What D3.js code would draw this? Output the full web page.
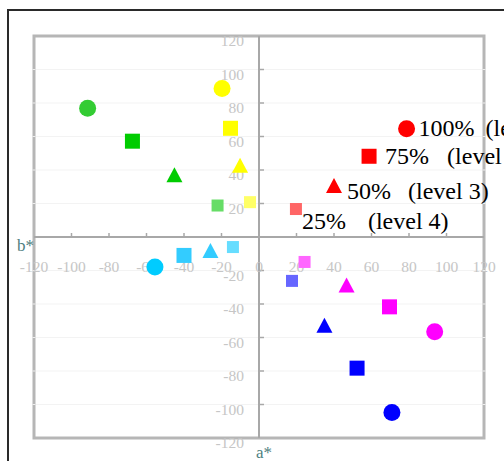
<!DOCTYPE html>
<html>
<head>
<meta charset="utf-8">
<script src="https://cdn.jsdelivr.net/npm/d3@7"></script>
<style>
  html, body { margin: 0; padding: 0; background: #fff; }
  svg { display: block; }
</style>
</head>
<body>
<script>
// ---- data ----
const seriesNames = ["green", "yellow", "red", "cyan", "magenta", "blue"];
const levels = ["100%", "75%", "50%", "25%"];
const levelNames = ["(level 1)", "(level 2)", "(level 3)", "(level 4)"];
const shapes = ["circle", "square", "triangle", "smallSquare"];
// a* values per series, ordered by level (100%, 75%, 50%, 25%)
const aGreen   = [-91.4, -67.5, -45.1, -22.1];
const bGreen   = [ 76.8,  57.2,  37.2,  18.8];
const aYellow  = [-19.7, -15.2, -10.1,  -4.8];
const bYellow  = [ 88.7,  64.9,  42.9,  20.8];
const aRed     = [ 78.7,  58.7,  40.0,  19.7];
const bRed     = [ 64.6,  48.2,  30.7,  16.7];
const aCyan    = [-55.5, -40.0, -25.9, -13.9];
const bCyan    = [-17.9, -11.0,  -8.0,  -6.0];
const aMagenta = [ 93.7,  69.6,  46.7,  24.3];
const bMagenta = [-56.6, -41.7, -28.6, -14.9];
const aBlue    = [ 70.9,  52.3,  34.9,  17.6];
const bBlue    = [-104.8, -78.3, -52.7, -26.2];
const xTicks = [-120, -100, -80, -60, -40, -20, 0, 20, 40, 60, 80, 100, 120];
const yTicks = [120, 100, 80, 60, 40, 20, -20, -40, -60, -80, -100, -120];

const colors = {
  green:   ["#33cc33", "#00cc00", "#00cc00", "#66dd66"],
  yellow:  ["#ffff00", "#ffff00", "#ffff00", "#ffff66"],
  red:     ["#ff0000", "#ff0000", "#ff0000", "#ff6666"],
  cyan:    ["#00ccff", "#33ccff", "#33ccff", "#66ddff"],
  magenta: ["#ff00ff", "#ff00ff", "#ff00ff", "#ff66ff"],
  blue:    ["#0000ff", "#0000ff", "#0000ff", "#6666ff"]
};
const aVals = {green: aGreen, yellow: aYellow, red: aRed, cyan: aCyan, magenta: aMagenta, blue: aBlue};
const bVals = {green: bGreen, yellow: bYellow, red: bRed, cyan: bCyan, magenta: bMagenta, blue: bBlue};

const points = [];
seriesNames.forEach(s => {
  levels.forEach((lv, i) => {
    points.push({series: s, level: i, a: aVals[s][i], b: bVals[s][i], color: colors[s][i], shape: shapes[i]});
  });
});

// ---- layout ----
const W = 504, H = 461;
const svg = d3.select("body").append("svg").attr("width", W).attr("height", H);

const x = d3.scaleLinear().domain([-120, 120]).range([34, 484]);
const y = d3.scaleLinear().domain([-120, 120]).range([438, 36]);

// outer frame (extends beyond the view)
svg.append("rect").attr("x", 8).attr("y", 10).attr("width", 600).attr("height", 600)
  .attr("fill", "none").attr("stroke", "#2a2a2a").attr("stroke-width", 2);

// faint gridlines
svg.append("g").selectAll("line").data(yTicks).join("line")
  .attr("x1", x(-120)).attr("x2", x(120))
  .attr("y1", d => y(d)).attr("y2", d => y(d))
  .attr("stroke", "#f3f3f3").attr("stroke-width", 1);

// plot border
svg.append("rect").attr("x", x(-120)).attr("y", y(120))
  .attr("width", x(120) - x(-120)).attr("height", y(-120) - y(120))
  .attr("fill", "none").attr("stroke", "#b6b6b6").attr("stroke-width", 3);

// light notches on border
const notch = svg.append("g");
notch.selectAll("line.l").data(yTicks.filter(d => Math.abs(d) < 120)).join("line")
  .attr("x1", x(-120) - 1.5).attr("x2", x(-120) + 1.5)
  .attr("y1", d => y(d)).attr("y2", d => y(d))
  .attr("stroke", "#eeeeee").attr("stroke-width", 1);
notch.selectAll("line.r").data(yTicks.filter(d => Math.abs(d) < 120)).join("line")
  .attr("x1", x(120) - 1.5).attr("x2", x(120) + 1.5)
  .attr("y1", d => y(d)).attr("y2", d => y(d))
  .attr("stroke", "#eeeeee").attr("stroke-width", 1);

// axes through origin
const axisColor = "#a8a8a8";
svg.append("line").attr("x1", x(-120)).attr("x2", x(120)).attr("y1", y(0)).attr("y2", y(0))
  .attr("stroke", axisColor).attr("stroke-width", 2);
svg.append("line").attr("x1", x(0)).attr("x2", x(0)).attr("y1", y(120)).attr("y2", y(-120))
  .attr("stroke", axisColor).attr("stroke-width", 2);

// ticks
svg.append("g").selectAll("line").data(xTicks.filter(d => d !== 0 && Math.abs(d) < 120)).join("line")
  .attr("x1", d => x(d)).attr("x2", d => x(d))
  .attr("y1", y(0) - 4).attr("y2", y(0))
  .attr("stroke", axisColor).attr("stroke-width", 1.5);
svg.append("g").selectAll("line").data(yTicks.filter(d => Math.abs(d) < 120)).join("line")
  .attr("x1", x(0)).attr("x2", x(0) + 5)
  .attr("y1", d => y(d)).attr("y2", d => y(d))
  .attr("stroke", axisColor).attr("stroke-width", 1.5);

// tick labels
const tickFont = "'Liberation Serif', 'Times New Roman', serif";
svg.append("g").selectAll("text").data(xTicks).join("text")
  .attr("x", d => x(d)).attr("y", y(0) + 35)
  .attr("text-anchor", "middle")
  .attr("font-family", tickFont).attr("font-size", 15.5)
  .attr("fill", "#c6c6c6")
  .text(d => d);
svg.append("g").selectAll("text").data(yTicks).join("text")
  .attr("x", x(0) - 15).attr("y", d => y(d) + 10)
  .attr("text-anchor", "end")
  .attr("font-family", tickFont).attr("font-size", 15.5)
  .attr("fill", "#c6c6c6")
  .text(d => d);

// axis titles
svg.append("text").attr("x", 17).attr("y", 251)
  .attr("font-family", tickFont).attr("font-size", 17).attr("fill", "#4f7f7f").text("b*");
svg.append("text").attr("x", 256).attr("y", 458)
  .attr("font-family", tickFont).attr("font-size", 17).attr("fill", "#4f7f7f").text("a*");

// markers
const g = svg.append("g");
points.forEach(p => {
  const cx = x(p.a), cy = y(p.b);
  if (p.shape === "circle") {
    g.append("circle").attr("cx", cx).attr("cy", cy).attr("r", 8.5).attr("fill", p.color);
  } else if (p.shape === "square") {
    g.append("rect").attr("x", cx - 7.5).attr("y", cy - 7.5).attr("width", 15).attr("height", 15).attr("fill", p.color);
  } else if (p.shape === "triangle") {
    g.append("path").attr("d", `M${cx},${cy - 7.5}L${cx + 8},${cy + 7.5}L${cx - 8},${cy + 7.5}Z`).attr("fill", p.color);
  } else {
    g.append("rect").attr("x", cx - 6).attr("y", cy - 6).attr("width", 12).attr("height", 12).attr("fill", p.color);
  }
});

// legend labels next to red markers
const redPts = points.filter(p => p.series === "red");
const pctDx = [12, 16, 13, 6];
const pctDy = [7, 8, 13, 20];
const lvlDx = [79, 78, 74, 72];
const legendFont = "'Liberation Serif', 'Times New Roman', serif";
redPts.forEach((p, i) => {
  const bx = x(p.a), by = y(p.b);
  svg.append("text").attr("x", bx + pctDx[i]).attr("y", by + pctDy[i])
    .attr("font-family", legendFont).attr("font-size", 24).attr("fill", "#000")
    .text(levels[i]);
  svg.append("text").attr("x", bx + lvlDx[i]).attr("y", by + pctDy[i])
    .attr("font-family", legendFont).attr("font-size", 24).attr("fill", "#000")
    .text(levelNames[i]);
});
</script>
</body>
</html>
